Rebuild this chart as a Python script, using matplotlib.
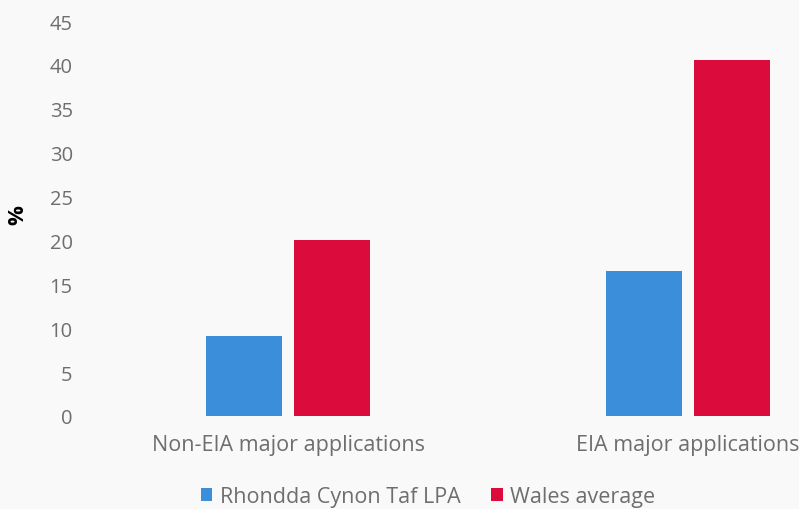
import matplotlib
matplotlib.use("Agg")
from matplotlib import pyplot as plt
import numpy as np

categories = ["Non-EIA major applications", "EIA major applications"]
series_names = ["Rhondda Cynon Taf LPA", "Wales average"]
rct_values = [9.1, 16.5]
wales_values = [20.1, 40.6]
y_ticks = [0, 5, 10, 15, 20, 25, 30, 35, 40, 45]

blue = "#3b8fda"
red = "#db0b3c"
text_grey = "#6e6e6e"

plt.rcParams['font.family'] = ['Open Sans', 'DejaVu Sans']

fig = plt.figure(figsize=(7.99, 5.10), dpi=100, facecolor="#f9f9f9")
ax = fig.add_axes([88/799, 93/510, 800/799, 395/510])
ax.set_facecolor("none")

x = np.arange(len(categories))
width = 0.19
gap = 0.032
ax.bar(x - (width + gap)/2, rct_values, width, color=blue, label=series_names[0])
ax.bar(x + (width + gap)/2, wales_values, width, color=red, label=series_names[1])

ax.set_xlim(-0.5, 1.5)
ax.set_ylim(0, 45)
ax.set_yticks(y_ticks)
ax.set_xticks(x)
ax.set_xticklabels(categories, fontsize=15.5)
for side in ax.spines.values():
    side.set_visible(False)
ax.tick_params(axis='both', length=0, colors=text_grey)
ax.tick_params(axis='y', pad=11, labelsize=14.5)
ax.tick_params(axis='x', pad=13)

fig.text(18/799, 1 - 215/510, "%", rotation=90, fontsize=16, fontweight='bold',
         color="black", ha='center', va='center')

fig.legend(loc='center', bbox_to_anchor=(428/799, 12/510), ncol=2, frameon=False,
           fontsize=15.5, labelcolor=text_grey, handlelength=0.55, handleheight=0.55,
           handletextpad=0.35, columnspacing=1.4)

fig.savefig("out.png", dpi=100, facecolor=fig.get_facecolor())
